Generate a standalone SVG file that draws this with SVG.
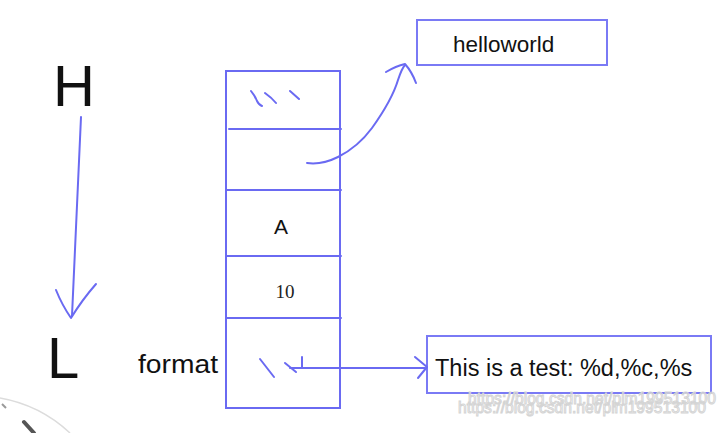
<svg xmlns="http://www.w3.org/2000/svg" width="719" height="433" viewBox="0 0 719 433">
<style>
.b{fill:none;stroke:#6a6af2;stroke-width:2;stroke-linecap:round;stroke-linejoin:round}
.box{fill:#fff;stroke:#7a7af5;stroke-width:2}
.t{font-family:"Liberation Sans",Arial,sans-serif;fill:#111}
.wm{font-family:"Liberation Sans",Arial,sans-serif;font-size:16px;fill:none;stroke:#d4d4d4;stroke-width:1}
</style>
<defs>
<text id="wmt" class="wm" x="0" y="0" textLength="248" lengthAdjust="spacingAndGlyphs">https://blog.csdn.net/plm199513100</text>
</defs>
<rect width="719" height="433" fill="#fff"/>
<g id="decor">
<path d="M0,398 Q40,405 70,433" fill="none" stroke="#dcdcdc" stroke-width="1.5"/>
<path d="M24,422 L34,433" stroke="#555" stroke-width="4" stroke-linecap="round"/>
<path d="M2,404 L6,408" stroke="#999" stroke-width="2"/>
</g>
<g id="H"><text class="t" x="53" y="106" font-size="58">H</text></g>
<g id="L"><text class="t" x="47" y="378" font-size="58">L</text></g>
<g id="format-label"><text class="t" x="138" y="373" font-size="25" textLength="80" lengthAdjust="spacingAndGlyphs">format</text></g>
<g id="stack">
<rect x="226" y="71" width="114" height="337" fill="#fff" stroke="#6a6af2" stroke-width="2"/>
<path class="b" d="M229,129 L341,129 M227,190 L341,190 M227,256 L341,256 M227,318 L341,318"/>
<path class="b" d="M251,91 Q255,96 257,101 Q259,105 262,106 M265,93 Q272,98 276,103 M290,91 L299,99" stroke-width="1.8"/>
<text class="t" x="281" y="234" font-size="21" text-anchor="middle">A</text>
<text x="285" y="298" font-size="19" text-anchor="middle" font-family="'Liberation Serif','Times New Roman',serif" fill="#222">10</text>
<path class="b" d="M260,359 L274,377 M285,363 L296,372 M302,357 L302,367"/>
</g>
<g id="helloworld">
<rect class="box" x="417" y="20" width="190" height="45"/>
<text class="t" x="453" y="52" font-size="22.5">helloworld</text>
</g>
<g id="fmt">
<rect class="box" x="427" y="336" width="284" height="57"/>
<text class="t" x="435" y="376" font-size="23.5">This is a test: %d,%c,%s</text>
</g>
<g id="connectors">
<path class="b" d="M81,117 L72,316"/>
<path class="b" d="M56,290 Q62,305 71,318 Q82,300 96,284"/>
<path class="b" d="M307,163 Q322,165 338,157 Q358,147 372,128 Q392,100 398,80 Q402,68 405,65"/>
<path class="b" d="M386,72 Q396,66 405,64 Q412,72 416,83"/>
<path class="b" d="M290,368 L425,368"/>
<path class="b" d="M415,357 L427,367 L418,378"/>
</g>
<g id="watermark">
<use href="#wmt" x="468" y="404"/>
<use href="#wmt" x="458" y="413"/>
</g>
</svg>
